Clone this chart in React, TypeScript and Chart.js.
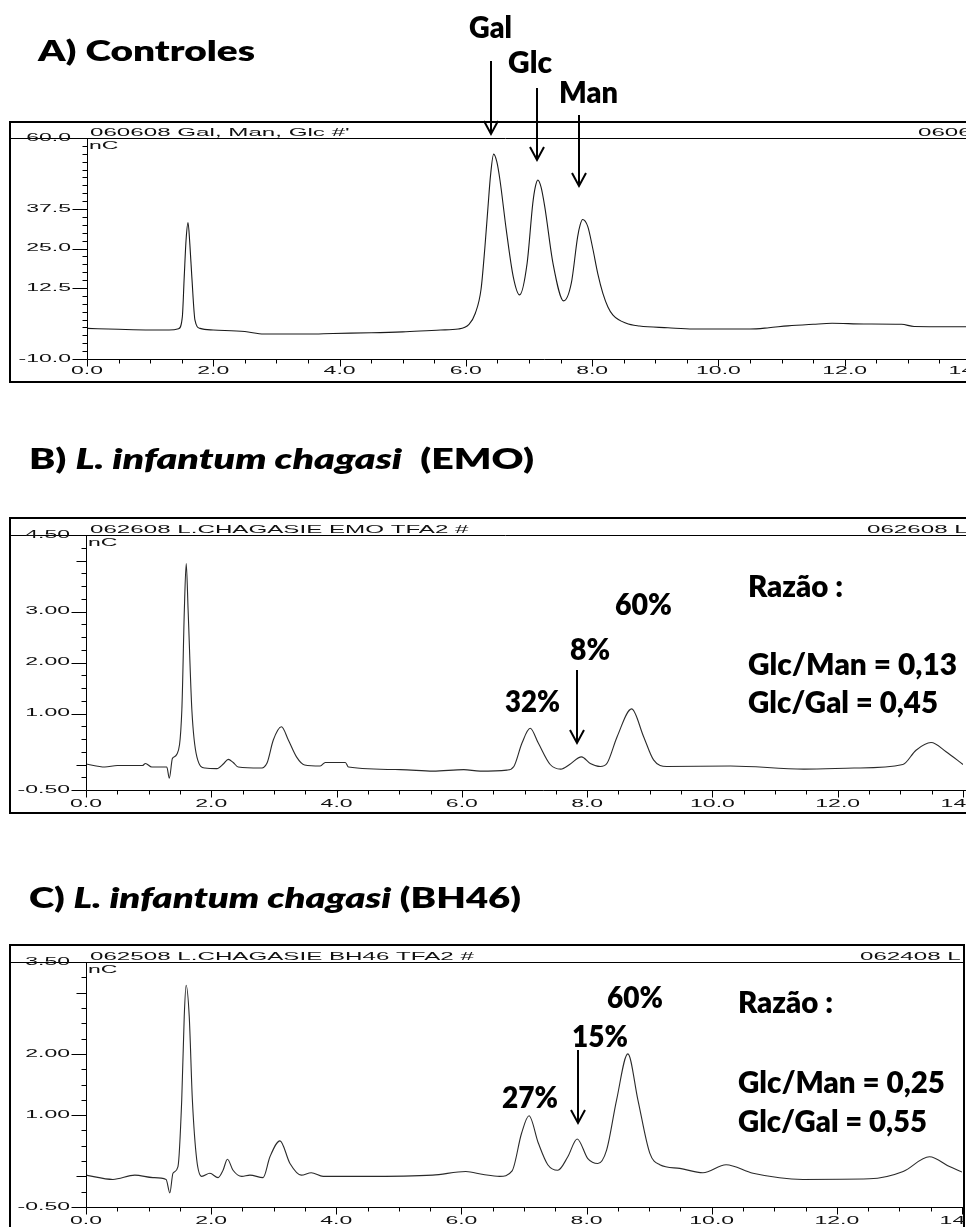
import React, { useEffect, useRef } from 'react';
import { Chart, registerables } from 'chart.js';

Chart.register(...registerables);

// ---------------- DATA ----------------
// Panel A) Controles — retention time (min) and signal (nC)
const timeA = [0.0, 0.5, 1.0, 1.3, 1.45, 1.51, 1.54, 1.57, 1.6, 1.63, 1.66, 1.71, 1.79, 2.0, 2.5, 2.8, 3.5, 3.9, 4.5, 5.0, 5.6, 5.88, 6.05, 6.15, 6.24, 6.3, 6.35, 6.39, 6.44, 6.49, 6.54, 6.64, 6.75, 6.85, 6.97, 7.06, 7.1, 7.14, 7.19, 7.25, 7.38, 7.55, 7.67, 7.77, 7.81, 7.85, 7.93, 8.01, 8.09, 8.17, 8.25, 8.33, 8.54, 8.75, 9.2, 9.6, 10.0, 10.5, 10.8, 11.1, 11.5, 11.8, 12.3, 12.9, 13.1, 14.0];
const signalA = [-0.3, -0.6, -0.8, -0.8, -0.4, 3.4, 16.1, 28.0, 33.2, 26.0, 16.1, 2.3, -0.3, -0.8, -1.3, -2.1, -2.1, -1.9, -1.7, -1.4, -0.8, -0.5, 1.0, 4.5, 12.0, 25.0, 38.0, 48.0, 54.9, 52.5, 46.7, 30.9, 16.1, 10.3, 20.3, 39.3, 44.5, 46.7, 44.5, 38.2, 20.3, 8.4, 14.0, 28.7, 32.5, 34.2, 32.0, 25.0, 17.0, 10.8, 6.5, 3.9, 1.3, 0.45, -0.1, -0.5, -0.5, -0.5, -0.1, 0.5, 1.0, 1.3, 1.1, 1.0, 0.3, 0.2];

// Panel B) L. infantum chagasi (EMO)
const timeB = [0.0, 0.3, 0.5, 0.9, 0.95, 1.05, 1.29, 1.33, 1.38, 1.45, 1.53, 1.57, 1.6, 1.63, 1.69, 1.77, 1.9, 2.09, 2.2, 2.27, 2.35, 2.43, 2.78, 2.89, 2.99, 3.12, 3.23, 3.36, 3.49, 3.74, 3.82, 4.14, 4.19, 5.02, 5.54, 6.03, 6.29, 6.72, 6.83, 6.96, 7.09, 7.22, 7.41, 7.58, 7.72, 7.91, 8.05, 8.21, 8.32, 8.48, 8.71, 8.9, 9.06, 9.27, 10.29, 11.46, 12.26, 13.04, 13.25, 13.49, 13.73, 14.0];
const signalB = [0.01, -0.05, -0.02, -0.02, 0.02, -0.05, -0.05, -0.27, 0.12, 0.2, 1.07, 3.03, 3.94, 3.03, 1.07, 0.15, -0.07, -0.08, 0.02, 0.1, 0.04, -0.05, -0.07, 0.03, 0.48, 0.74, 0.48, 0.15, -0.01, -0.03, 0.04, 0.04, -0.05, -0.1, -0.13, -0.1, -0.13, -0.11, -0.04, 0.42, 0.71, 0.42, 0.0, -0.09, 0.0, 0.15, 0.02, -0.04, 0.03, 0.55, 1.09, 0.55, 0.09, -0.04, -0.03, -0.09, -0.07, 0.0, 0.28, 0.43, 0.25, 0.0];

// Panel C) L. infantum chagasi (BH46)
const timeC = [0.0, 0.43, 0.78, 1.07, 1.28, 1.34, 1.39, 1.47, 1.53, 1.57, 1.6, 1.65, 1.7, 1.77, 1.85, 1.98, 2.11, 2.19, 2.26, 2.35, 2.49, 2.62, 2.83, 2.94, 3.1, 3.26, 3.44, 3.6, 3.79, 4.44, 5.54, 6.07, 6.35, 6.61, 6.81, 6.96, 7.08, 7.23, 7.38, 7.54, 7.7, 7.85, 8.02, 8.18, 8.32, 8.48, 8.66, 8.82, 9.01, 9.17, 9.49, 9.86, 10.23, 10.66, 11.46, 12.52, 13.06, 13.48, 13.8, 14.0];
const signalC = [0.02, -0.05, 0.02, -0.02, -0.05, -0.27, 0.05, 0.16, 1.25, 2.61, 3.12, 2.61, 1.25, 0.27, 0.0, 0.05, -0.02, 0.1, 0.28, 0.1, 0.0, 0.02, -0.02, 0.32, 0.58, 0.21, 0.02, 0.06, 0.0, 0.0, 0.02, 0.08, 0.03, 0.0, 0.09, 0.7, 0.99, 0.54, 0.19, 0.1, 0.32, 0.61, 0.29, 0.21, 0.43, 1.25, 2.0, 1.25, 0.38, 0.19, 0.13, 0.06, 0.19, 0.05, -0.05, -0.04, 0.08, 0.32, 0.16, 0.07];

// Axis ticks
const xTickValues = [0, 2, 4, 6, 8, 10, 12, 14];
const xTickLabels = ['0.0', '2.0', '4.0', '6.0', '8.0', '10.0', '12.0', '14.0'];
const yTicksA = [60, 37.5, 25, 12.5, -10];
const yLabelsA = ['60.0', '37.5', '25.0', '12.5', '-10.0'];
const yTicksB = [4.5, 3, 2, 1, -0.5];
const yLabelsB = ['4.50', '3.00', '2.00', '1.00', '-0.50'];
const yLongB = [4, 0];
const yTicksC = [3.5, 2, 1, -0.5];
const yLabelsC = ['3.50', '2.00', '1.00', '-0.50'];
const yLongC = [3, 0];

// Header texts
const headerLeftA = "060608 Gal, Man, Glc #'";
const headerRightA = '060608 Gal, Man, Glc';
const headerLeftB = '062608 L.CHAGASIE EMO TFA2 #';
const headerRightB = '062608 L.CHAGASIE EMO';
const headerLeftC = '062508 L.CHAGASIE BH46 TFA2 #';
const headerRightC = '062408 L.CHAGASIE BH46';

// Arrow targets (retention time)
const arrowTimesA = [6.4, 7.12, 7.79];
const arrowTimesB = [7.84];
const arrowTimesC = [7.86];

// ---------------- LAYOUT / STYLE ----------------
const CANVAS_W = 1000;
const SX = 2.3; // horizontal stretch of the instrument's printed fonts

type PanelCfg = {
  bandTop: number; bandH: number;
  plotLeft: number; plotRight: number; plotTop: number; axisY: number;
  boxLeft: number; boxTop: number; boxRight: number; boxBottom: number;
  yMin: number; yMax: number; yMinor: number;
  yTicks: number[]; yLabels: string[]; yLong: number[];
  headerLeft: string; headerRight: string; headerRightX: number; clipRight: number;
  arrows: { t: number; yTop: number; yTip: number }[];
  time: number[]; signal: number[]; color: string;
  xLabelOffset: number;
};

const panels: PanelCfg[] = [
  {
    bandTop: 0, bandH: 395, plotLeft: 87, plotRight: 971, plotTop: 138, axisY: 359,
    boxLeft: 10, boxTop: 122, boxRight: 1010, boxBottom: 382,
    yMin: -10, yMax: 60, yMinor: 2.5, yTicks: yTicksA, yLabels: yLabelsA, yLong: [],
    headerLeft: headerLeftA, headerRight: headerRightA, headerRightX: 918, clipRight: 1000,
    arrows: [
      { t: arrowTimesA[0], yTop: 61, yTip: 134 },
      { t: arrowTimesA[1], yTop: 88, yTip: 160 },
      { t: arrowTimesA[2], yTop: 115, yTip: 186 },
    ],
    time: timeA, signal: signalA, color: '#1a1a1a', xLabelOffset: 15,
  },
  {
    bandTop: 400, bandH: 420, plotLeft: 86, plotRight: 963, plotTop: 535, axisY: 790,
    boxLeft: 10, boxTop: 518, boxRight: 1010, boxBottom: 813,
    yMin: -0.5, yMax: 4.5, yMinor: 0.25, yTicks: yTicksB, yLabels: yLabelsB, yLong: yLongB,
    headerLeft: headerLeftB, headerRight: headerRightB, headerRightX: 867, clipRight: 1000,
    arrows: [{ t: arrowTimesB[0], yTop: 670, yTip: 743 }],
    time: timeB, signal: signalB, color: '#2a2a2a', xLabelOffset: 17,
  },
  {
    bandTop: 830, bandH: 397, plotLeft: 86, plotRight: 962, plotTop: 962, axisY: 1207,
    boxLeft: 10, boxTop: 945, boxRight: 964, boxBottom: 1240,
    yMin: -0.5, yMax: 3.5, yMinor: 0.25, yTicks: yTicksC, yLabels: yLabelsC, yLong: yLongC,
    headerLeft: headerLeftC, headerRight: headerRightC, headerRightX: 860, clipRight: 962,
    arrows: [{ t: arrowTimesC[0], yTop: 1050, yTip: 1123 }],
    time: timeC, signal: signalC, color: '#2a2a2a', xLabelOffset: 17,
  },
];

function stretchedText(ctx: CanvasRenderingContext2D, text: string, x: number, y: number, align: CanvasTextAlign, sx: number) {
  ctx.save();
  ctx.translate(x, y);
  ctx.scale(sx, 1);
  ctx.textAlign = align;
  ctx.fillText(text, 0, 0);
  ctx.restore();
}

function hLine(ctx: CanvasRenderingContext2D, x0: number, x1: number, y: number) {
  ctx.beginPath();
  ctx.moveTo(x0, y);
  ctx.lineTo(x1, y);
  ctx.stroke();
}
function vLine(ctx: CanvasRenderingContext2D, x: number, y0: number, y1: number) {
  ctx.beginPath();
  ctx.moveTo(x, y0);
  ctx.lineTo(x, y1);
  ctx.stroke();
}

function makeDecor(cfg: PanelCfg) {
  return {
    id: 'chromDecor',
    afterDraw(chart: any) {
      const ctx: CanvasRenderingContext2D = chart.ctx;
      const xs = chart.scales.x;
      const ys = chart.scales.y;
      const { left, right, top, bottom } = chart.chartArea;
      const off = cfg.bandTop;
      ctx.save();
      ctx.strokeStyle = '#000';
      ctx.fillStyle = '#111';

      // outer frame
      ctx.lineWidth = 2;
      ctx.strokeRect(cfg.boxLeft, cfg.boxTop - off, cfg.boxRight - cfg.boxLeft, cfg.boxBottom - cfg.boxTop);

      // header separator (top of plot)
      ctx.lineWidth = 1;
      const ty = Math.round(top) + 0.5;
      hLine(ctx, cfg.boxLeft, cfg.boxRight, ty);

      // axes
      const ax = Math.round(left) + 0.5;
      const ay = Math.round(bottom) + 0.5;
      vLine(ctx, ax, ty, ay);
      hLine(ctx, ax, Math.max(right, cfg.boxRight), ay);

      // y ticks
      const nY = Math.round((cfg.yMax - cfg.yMin) / cfg.yMinor);
      for (let i = 0; i <= nY; i++) {
        const v = cfg.yMin + i * cfg.yMinor;
        const py = Math.round(ys.getPixelForValue(v)) + 0.5;
        const labeled = cfg.yTicks.some((t) => Math.abs(t - v) < 1e-6);
        const long = cfg.yLong.some((t) => Math.abs(t - v) < 1e-6);
        const len = labeled ? 15 : long ? 10 : 5;
        hLine(ctx, ax - len, ax, py);
      }
      // x ticks
      const xMax = xs.max;
      const nX = Math.round(xMax / 0.5);
      for (let i = 0; i <= nX; i++) {
        const v = i * 0.5;
        const px = Math.round(xs.getPixelForValue(v)) + 0.5;
        const major = i % 4 === 0;
        vLine(ctx, px, ay, ay + (major ? 7 : 4));
      }

      // tick labels
      ctx.font = '10px "Liberation Sans", Arial, sans-serif';
      ctx.textBaseline = 'middle';
      cfg.yTicks.forEach((v, i) => {
        const py = ys.getPixelForValue(v);
        stretchedText(ctx, cfg.yLabels[i], left - 16, py, 'right', SX);
      });
      ctx.textBaseline = 'alphabetic';
      xTickValues.forEach((v, i) => {
        const px = xs.getPixelForValue(v);
        stretchedText(ctx, xTickLabels[i], px, bottom + cfg.xLabelOffset, 'center', SX);
      });

      // unit label
      stretchedText(ctx, 'nC', left + 2, top + 11, 'left', SX);

      // header texts
      ctx.save();
      ctx.beginPath();
      ctx.rect(cfg.boxLeft, cfg.boxTop - off, cfg.clipRight - cfg.boxLeft, top - (cfg.boxTop - off));
      ctx.clip();
      ctx.font = '10.5px "Liberation Sans", Arial, sans-serif';
      stretchedText(ctx, cfg.headerLeft, 90, top - 2.5, 'left', SX);
      stretchedText(ctx, cfg.headerRight, cfg.headerRightX, top - 2.5, 'left', SX);
      ctx.restore();

      // arrows
      ctx.strokeStyle = '#000';
      ctx.lineWidth = 2;
      cfg.arrows.forEach((a) => {
        const px = Math.round(xs.getPixelForValue(a.t));
        const y0 = a.yTop - off;
        const y1 = a.yTip - off;
        vLine(ctx, px, y0, y1);
        ctx.beginPath();
        ctx.moveTo(px - 7, y1 - 13);
        ctx.lineTo(px, y1);
        ctx.lineTo(px + 7, y1 - 13);
        ctx.stroke();
      });

      ctx.restore();
    },
  };
}

function Panel({ cfg }: { cfg: PanelCfg }) {
  const ref = useRef<HTMLCanvasElement>(null);
  useEffect(() => {
    const canvas = ref.current;
    if (!canvas) return;
    const points = cfg.time.map((t, i) => ({ x: t, y: cfg.signal[i] }));
    const chart = new Chart(canvas, {
      type: 'line',
      data: {
        datasets: [
          {
            data: points,
            borderColor: cfg.color,
            borderWidth: 1.1,
            pointRadius: 0,
            fill: false,
            cubicInterpolationMode: 'monotone',
          } as any,
        ],
      },
      options: {
        animation: false,
        responsive: false,
        maintainAspectRatio: false,
        devicePixelRatio: 1,
        events: [],
        layout: {
          padding: {
            left: cfg.plotLeft,
            right: CANVAS_W - cfg.plotRight,
            top: cfg.plotTop - cfg.bandTop,
            bottom: cfg.bandH - (cfg.axisY - cfg.bandTop),
          },
        },
        plugins: { legend: { display: false }, tooltip: { enabled: false } },
        scales: {
          x: { type: 'linear', min: 0, max: 14, display: false },
          y: { type: 'linear', min: cfg.yMin, max: cfg.yMax, display: false },
        },
      },
      plugins: [makeDecor(cfg)],
    });
    return () => chart.destroy();
  }, [cfg]);
  return (
    <canvas
      ref={ref}
      width={CANVAS_W}
      height={cfg.bandH}
      style={{ position: 'absolute', left: 0, top: cfg.bandTop, width: CANVAS_W, height: cfg.bandH }}
    />
  );
}

const boldFont = { fontFamily: 'Lato, "Open Sans", sans-serif', fontWeight: 800, fill: '#000', whiteSpace: 'pre' as const };

function T({ x, y, w, s, children }: { x: number; y: number; w: number; s: number; children: React.ReactNode }) {
  return (
    <text x={x} y={y} textLength={w} lengthAdjust="spacingAndGlyphs" fontSize={s} style={boldFont}>
      {children}
    </text>
  );
}

export default function App() {
  return (
    <div style={{ position: 'absolute', left: 0, top: 0, width: 966, height: 1227, overflow: 'hidden', background: '#fff' }}>
      {panels.map((p, i) => (
        <Panel key={i} cfg={p} />
      ))}
      <svg width={966} height={1227} style={{ position: 'absolute', left: 0, top: 0 }}>
        <T x={38} y={61} w={217} s={29}>A) Controles</T>
        <T x={469} y={38} w={43} s={30}>Gal</T>
        <T x={508} y={73} w={44} s={30}>Glc</T>
        <T x={559} y={103} w={59} s={30}>Man</T>

        <T x={29} y={469} w={505} s={29}>
          {'B) '}
          <tspan fontStyle="italic">L. infantum chagasi</tspan>
          {'  (EMO)'}
        </T>
        <T x={748} y={597} w={95} s={30}>Razão :</T>
        <T x={615} y={615} w={57} s={30}>60%</T>
        <T x={570} y={660} w={40} s={30}>8%</T>
        <T x={505} y={712} w={55} s={30}>32%</T>
        <T x={748} y={675} w={209} s={30}>Glc/Man = 0,13</T>
        <T x={748} y={713} w={190} s={30}>Glc/Gal = 0,45</T>

        <T x={29} y={908} w={492} s={29}>
          {'C) '}
          <tspan fontStyle="italic">L. infantum chagasi</tspan>
          {' (BH46)'}
        </T>
        <T x={607} y={1008} w={56} s={30}>60%</T>
        <T x={572} y={1047} w={56} s={30}>15%</T>
        <T x={502} y={1108} w={56} s={30}>27%</T>
        <T x={738} y={1013} w={95} s={30}>Razão :</T>
        <T x={738} y={1093} w={207} s={30}>Glc/Man = 0,25</T>
        <T x={738} y={1132} w={189} s={30}>Glc/Gal = 0,55</T>
      </svg>
    </div>
  );
}
